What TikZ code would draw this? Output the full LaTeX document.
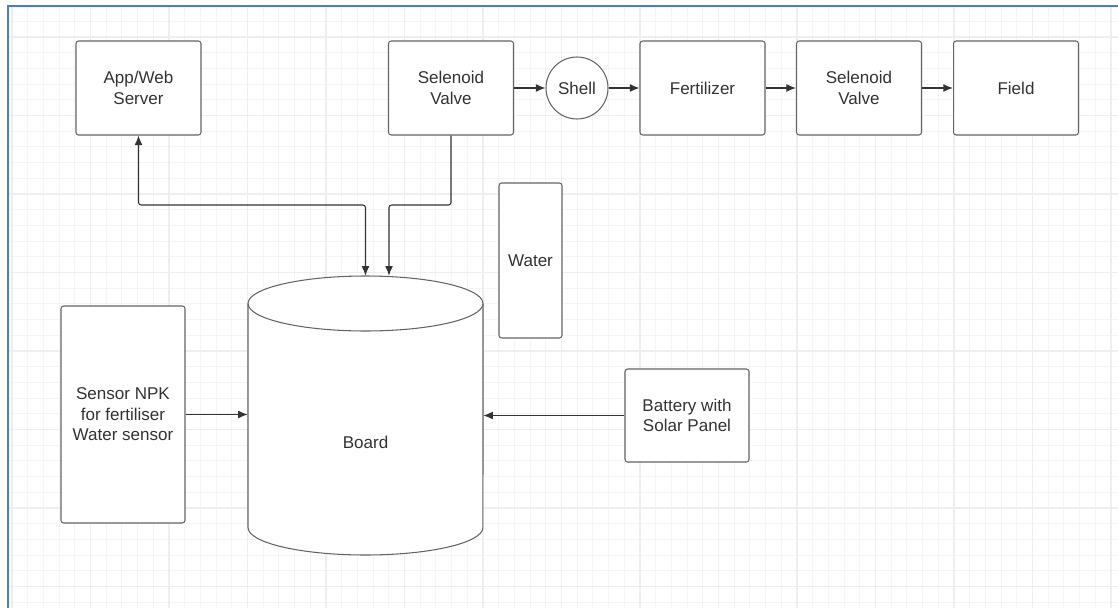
\documentclass[tikz,border=0pt]{standalone}
\usepackage{fontspec}
\setmainfont{Liberation Sans}
\usepackage{tikz}
\usetikzlibrary{arrows.meta, positioning}
\definecolor{frameblue}{RGB}{74,126,196}
\definecolor{boxgray}{RGB}{100,100,100}
\definecolor{inkgray}{RGB}{51,51,51}

\begin{document}
\begin{tikzpicture}[x=0.02cm, y=-0.02cm, >={Latex[length=5.5pt,width=4.5pt]},
    font=\fontsize{9.7pt}{11.6pt}\selectfont, text=inkgray,
    block/.style={draw=boxgray, line width=0.6pt, rounded corners=1.5pt, fill=white,
                  align=center, inner sep=2pt, minimum width=2.5cm, minimum height=1.88cm},
    link/.style={draw=inkgray, line width=0.6pt, rounded corners=1.5pt},
    minorline/.style={gray!9, line width=0.5pt},
    majorline/.style={gray!13, line width=0.6pt}]
  \useasboundingbox (0,0) rectangle (1118,608);
  \fill[white] (0,0) rectangle (1118,608);
  % grid paper
  \begin{scope}
    \clip (8,6) rectangle (1118,608);
    \foreach \i [evaluate=\i as \gx using 12+15.7*\i] in {0,...,70}
      \draw[minorline] (\gx,6) -- (\gx,608);
    \foreach \j [evaluate=\j as \gy using 5.6+15.7*\j] in {0,...,38}
      \draw[minorline] (8,\gy) -- (1118,\gy);
    \foreach \i [evaluate=\i as \gx using 12+78.5*\i] in {0,...,14}
      \draw[majorline] (\gx,6) -- (\gx,608);
    \foreach \j [evaluate=\j as \gy using 37+78.5*\j] in {0,...,7}
      \draw[majorline] (8,\gy) -- (1118,\gy);
  \end{scope}
  \draw[frameblue, line width=1.1pt] (8,608) -- (8,6) -- (1118,6);

  % top row
  \node[block] (app) at (138.5,88) {App/Web\\Server};
  \node[block] (valveA) at (451,88) {Selenoid\\Valve};
  \node[draw=boxgray, line width=0.6pt, circle, fill=white, minimum size=1.24cm, inner sep=0pt] (shell) at (577,88) {Shell};
  \node[block] (fert) at (702.5,88) {Fertilizer};
  \node[block] (valveB) at (859,88) {Selenoid\\Valve};
  \node[block] (field) at (1016,88) {Field};

  % side blocks
  \node[block, minimum width=1.26cm, minimum height=3.1cm] (water) at (530.5,260.5) {Water};
  \node[block, minimum width=2.48cm, minimum height=4.34cm] (sensor) at (123,414.5) {Sensor NPK\\for fertiliser\\Water sensor};
  \node[block, minimum width=2.48cm, minimum height=1.86cm] (battery) at (687,415.5) {Battery with\\Solar Panel};

  % board (cylinder)
  \fill[white] (248,303.5) -- (248,527.5) arc[start angle=180, end angle=360, x radius=2.35cm, y radius=0.55cm]
               -- (483,303.5) arc[start angle=0, end angle=180, x radius=2.35cm, y radius=0.55cm] -- cycle;
  \draw[boxgray, line width=0.6pt] (248,303.5) -- (248,527.5)
        arc[start angle=180, end angle=360, x radius=2.35cm, y radius=0.55cm] -- (483,303.5);
  \draw[boxgray, line width=0.6pt] (365.5,303.5) ellipse [x radius=2.35cm, y radius=0.55cm];
  \node[minimum width=4.7cm, minimum height=5.58cm, inner sep=0pt] (board) at (365.5,415.5) {};
  \node (boardlabel) at (365.5,442) {Board};

  % connectors
  \coordinate (feedA) at (365.5,205);
  \coordinate (feedB) at (389,205);
  \draw[link, ->] (valveA) -- (shell);
  \draw[link, ->] (shell) -- (fert);
  \draw[link, ->] (fert) -- (valveB);
  \draw[link, ->] (valveB) -- (field);
  \draw[link, <->] (app.south) |- (feedA) -- (board.north);
  \draw[link, ->] (valveA.south) |- (feedB) -- (feedB |- board.north);
  \draw[link, ->] (sensor.east) -- (sensor.east -| board.west);
  \draw[link, ->] (battery.west) -- (battery.west -| board.east);
\end{tikzpicture}
\end{document}
